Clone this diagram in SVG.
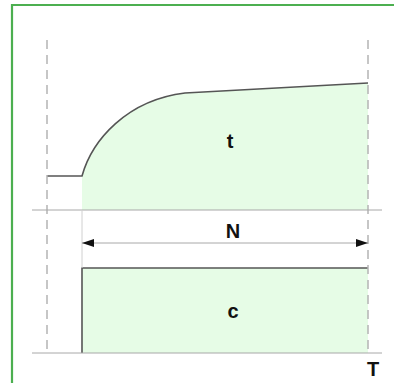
<svg xmlns="http://www.w3.org/2000/svg" width="394" height="383" viewBox="0 0 394 383">
<defs>
<style>
.dash{stroke:#b4b4b4;stroke-width:1.5;stroke-dasharray:9,6;fill:none}
.guide{stroke:#a8a8a8;stroke-width:1;fill:none}
.edge{stroke:#555;stroke-width:1.6;fill:none}
.fill{fill:#e6fce6;stroke:none}
.lbl{font-family:"Liberation Sans",Arial,sans-serif;font-weight:bold;font-size:20px;fill:#111;text-anchor:middle}
</style>
<marker id="ah" viewBox="0 0 12 8" refX="12" refY="4" markerWidth="12" markerHeight="8" markerUnits="userSpaceOnUse" orient="auto-start-reverse">
<path d="M0,0 L12,4 L0,8 Z" fill="#111"/>
</marker>
</defs>
<rect x="0" y="0" width="394" height="383" fill="#ffffff"/>
<path d="M12,395 L12,5 L400,5" fill="none" stroke="#4caf50" stroke-width="2.2"/>
<g id="node-t">
<path class="fill" d="M82,176 C92,140 127,100 185,93 L368,83 L368,210 L82,210 Z"/>
<path class="edge" d="M47,176 L82,176 C92,140 127,100 185,93 L368,83"/>
<text class="lbl" x="230" y="148">t</text>
</g>
<g id="node-c">
<rect class="fill" x="82" y="268" width="286" height="85"/>
<path class="edge" d="M82,353 L82,268 L368,268"/>
<text class="lbl" x="233" y="318">c</text>
</g>
<g id="connectors">
<line class="dash" x1="47" y1="40" x2="47" y2="353"/>
<line class="dash" x1="368" y1="40" x2="368" y2="353"/>
<line class="guide" x1="32" y1="210" x2="382" y2="210"/>
<line class="guide" x1="32" y1="353" x2="382" y2="353"/>
<line x1="82" y1="210" x2="82" y2="268" stroke="#d0d0d0" stroke-width="1"/>
<line class="guide" x1="82" y1="243" x2="368" y2="243" marker-start="url(#ah)" marker-end="url(#ah)"/>
</g>
<g id="labels">
<text class="lbl" x="233" y="238">N</text>
<text class="lbl" x="373" y="376">T</text>
</g>
</svg>
